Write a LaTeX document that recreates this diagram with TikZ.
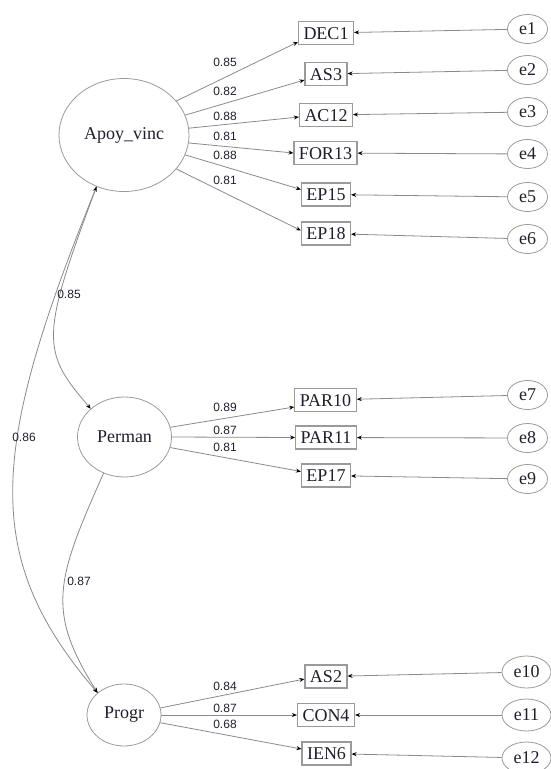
\documentclass[tikz,border=0pt]{standalone}
\usepackage{fontspec}
\setmainfont{Liberation Serif}
\newfontfamily\labfont{Liberation Sans}
\usetikzlibrary{arrows.meta,calc,shapes.geometric}
\definecolor{lncol}{HTML}{8A8A8A}
\definecolor{bdcol}{HTML}{9A9A9A}
\definecolor{txcol}{HTML}{1E1E2E}
\begin{document}
\begin{tikzpicture}[x=1pt,y=-1pt,
  latent/.style={draw=bdcol, line width=0.8pt, ellipse, inner sep=0pt, font=\fontsize{18}{20}\selectfont, text=txcol},
  obsbox/.style={draw=bdcol, line width=1.1pt, rectangle, inner xsep=5pt, inner ysep=0pt, minimum height=23pt, text height=12.5pt, text depth=0.5pt, font=\fontsize{18}{20}\selectfont, text=txcol},
  errnode/.style={draw=bdcol, line width=0.8pt, ellipse, inner sep=0pt, minimum width=40pt, minimum height=29pt, font=\fontsize{18}{20}\selectfont, text=txcol},
  errbig/.style={errnode, minimum width=49pt, minimum height=32pt},
  arr/.style={draw=lncol, line width=0.8pt, -{Stealth[length=5pt,width=4pt,black]}},
  covarr/.style={draw=lncol, line width=0.8pt},
  lbl/.style={font=\labfont\fontsize{12}{12}\selectfont, text=txcol, inner sep=0pt}
]
\useasboundingbox (0,0) rectangle (551,769);

% latent variables
\node[latent, minimum width=130pt, minimum height=113pt] (A) at (124,135) {Apoy\_vinc};
\node[latent, minimum width=94pt, minimum height=80pt] (P) at (124.5,437) {Perman};
\node[latent, minimum width=74pt, minimum height=62pt] (G) at (124,715) {Progr};

% observed
\node[obsbox] (DEC1) at (326,33) {DEC1};
\node[obsbox] (AS3) at (326,74) {AS3};
\node[obsbox] (AC12) at (326,115) {AC12};
\node[obsbox] (FOR13) at (325.5,153) {FOR13};
\node[obsbox] (EP15) at (326,194.5) {EP15};
\node[obsbox] (EP18) at (326,233.5) {EP18};
\node[obsbox] (PAR10) at (325.5,400) {PAR10};
\node[obsbox] (PAR11) at (326,437.5) {PAR11};
\node[obsbox] (EP17) at (326,475.5) {EP17};
\node[obsbox] (AS2) at (326,676.5) {AS2};
\node[obsbox] (CON4) at (326,715) {CON4};
\node[obsbox] (IEN6) at (326.5,753.5) {IEN6};

% errors
\node[errnode] (e1) at (527.5,29) {e1};
\node[errnode] (e2) at (527.5,70) {e2};
\node[errnode] (e3) at (527.5,112) {e3};
\node[errnode] (e4) at (527.5,154) {e4};
\node[errnode] (e5) at (527.5,197) {e5};
\node[errnode] (e6) at (527.5,239) {e6};
\node[errnode] (e7) at (527.5,395) {e7};
\node[errnode] (e8) at (527.5,438) {e8};
\node[errnode] (e9) at (527.5,479) {e9};
\node[errbig] (e10) at (526.5,672) {e10};
\node[errbig] (e11) at (526.5,715) {e11};
\node[errbig] (e12) at (526.5,758) {e12};

% loadings
\draw[arr] (A.33) -- ($(DEC1.west)+(0,9)$);
\draw[arr] (A.18) -- ($(AS3.west)+(0,6)$);
\draw[arr] (A.6) -- ($(AC12.west)+(0,2)$);
\draw[arr] (A.-7) -- (FOR13.west);
\draw[arr] (A.-18) -- ($(EP15.west)+(0,-5)$);
\draw[arr] (A.-33) -- ($(EP18.west)+(0,-3)$);
\draw[arr] (P.12) -- ($(PAR10.west)+(0,7)$);
\draw[arr] (P.0) -- (PAR11.west);
\draw[arr] (P.-13) -- ($(EP17.west)+(0,-4)$);
\draw[arr] (G.11) -- ($(AS2.west)+(0,2.5)$);
\draw[arr] (G.0) -- (CON4.west);
\draw[arr] (G.-12) -- ($(IEN6.west)+(0,-4.5)$);

% errors to indicators
\foreach \e/\o in {e1/DEC1,e2/AS3,e3/AC12,e4/FOR13,e5/EP15,e6/EP18,e7/PAR10,e8/PAR11,e9/EP17,e10/AS2,e11/CON4,e12/IEN6}
  \draw[arr] (\e) -- (\o);

% covariances
\draw[arr] (A.242) .. controls (40,338) and (41,351) .. (P.140);
\draw[covarr, {Stealth[length=5pt,width=4pt,black]}-{Stealth[length=5pt,width=4pt,black]}] (A.242) .. controls (-10,450) and (-19.7,556) .. (G.140);
\draw[arr] (P.240) .. controls (55.5,581) and (46.2,611) .. (G.140);

% loading labels
\node[lbl] (l1) at (225,62) {0.85};
\node[lbl] (l2) at (225,91) {0.82};
\node[lbl] (l3) at (225,116) {0.88};
\node[lbl] (l4) at (225,136) {0.81};
\node[lbl] (l5) at (225,155) {0.88};
\node[lbl] (l6) at (225,180) {0.81};
\node[lbl] (l7) at (225,407) {0.89};
\node[lbl] (l8) at (225,430) {0.87};
\node[lbl] (l9) at (225,447) {0.81};
\node[lbl] (l10) at (225,686) {0.84};
\node[lbl] (l11) at (225,708) {0.87};
\node[lbl] (l12) at (225,724) {0.68};
% covariance labels
\node[lbl] (c1) at (69,294) {0.85};
\node[lbl] (c2) at (24,437) {0.86};
\node[lbl] (c3) at (79,581) {0.87};
\end{tikzpicture}
\end{document}
